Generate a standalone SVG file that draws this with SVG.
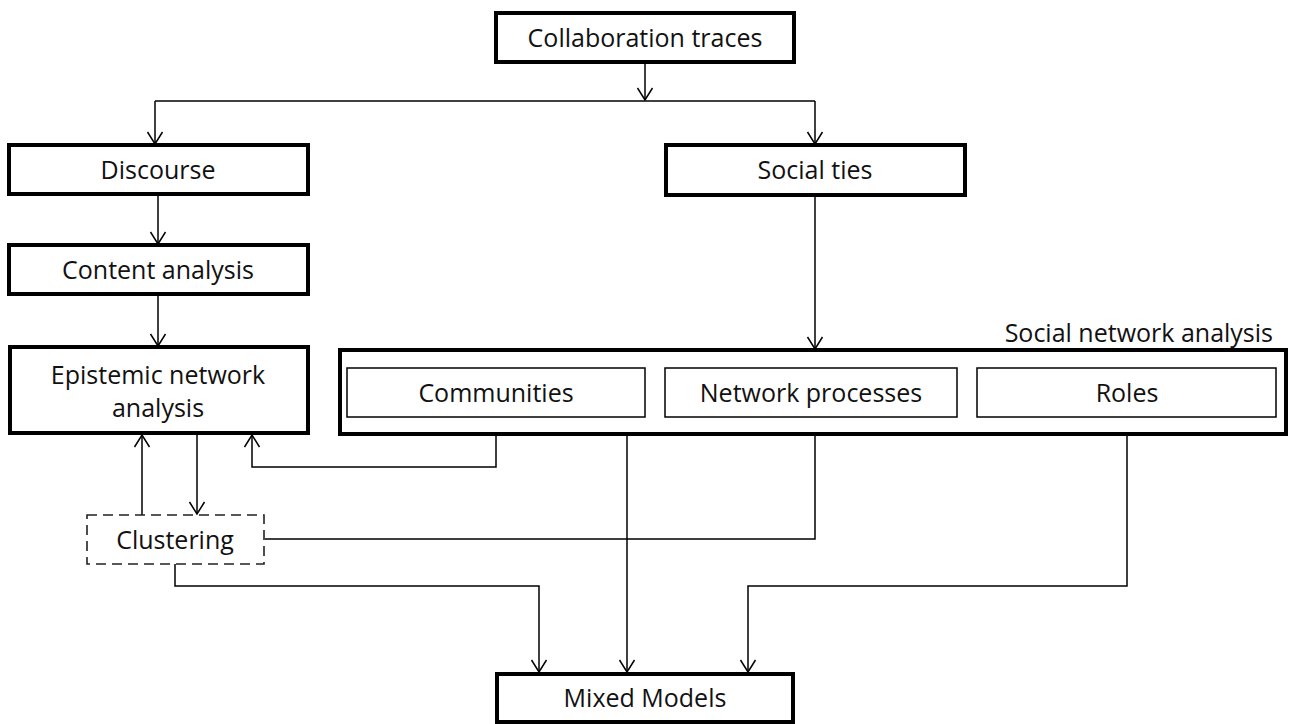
<svg xmlns="http://www.w3.org/2000/svg" width="1289" height="724" viewBox="0 0 1289 724">
<style>
.thick{fill:#fff;stroke:#000;stroke-width:4}
.thin{fill:#fff;stroke:#000;stroke-width:1.5}
.dash{fill:#fff;stroke:#222;stroke-width:1.6;stroke-dasharray:10,6}
.c{fill:none;stroke:#000;stroke-width:1.5;marker-end:url(#ah)}
.n{fill:none;stroke:#000;stroke-width:1.5}
text{font-family:"Open Sans","Liberation Sans",sans-serif;font-size:25px;fill:#111;text-anchor:middle}
</style>
<defs>
<marker id="ah" viewBox="0 0 14 18" refX="13" refY="9" markerWidth="14" markerHeight="18" markerUnits="userSpaceOnUse" orient="auto">
<path d="M1,1.5 L13,9 L1,16.5" fill="none" stroke="#000" stroke-width="1.5"/>
</marker>
</defs>
<g id="connectors">
<line class="c" x1="645" y1="62" x2="645" y2="100"/>
<path class="n" d="M155,101 H815"/>
<line class="c" x1="155" y1="101" x2="155" y2="144"/>
<line class="c" x1="815" y1="101" x2="815" y2="144"/>
<line class="c" x1="158" y1="194" x2="158" y2="244"/>
<line class="c" x1="158" y1="294" x2="158" y2="346"/>
<line class="c" x1="815" y1="195" x2="815" y2="349"/>
<path class="c" d="M496,417 V467 H252 V435"/>
<line class="c" x1="142" y1="515" x2="142" y2="435"/>
<line class="c" x1="197" y1="433" x2="197" y2="514"/>
<path class="c" d="M265,539 H815 V418"/>
<line class="c" x1="627" y1="417" x2="627" y2="672"/>
<path class="c" d="M175,564 V586 H539 V672"/>
<path class="c" d="M1127,417 V586 H748 V672"/>
</g>
<g id="collab"><rect class="thick" x="496" y="13" width="298" height="49"/><text x="645" y="47">Collaboration traces</text></g>
<g id="discourse"><rect class="thick" x="9" y="145" width="299" height="49"/><text x="158" y="179">Discourse</text></g>
<g id="socialties"><rect class="thick" x="666" y="145" width="299" height="50"/><text x="815" y="179">Social ties</text></g>
<g id="content"><rect class="thick" x="9" y="245" width="299" height="49"/><text x="158" y="279">Content analysis</text></g>
<g id="ena"><rect class="thick" x="10" y="347" width="298" height="86"/><text x="158" y="384">Epistemic network</text><text x="158" y="417">analysis</text></g>
<g id="sna"><rect class="thick" x="340" y="350" width="946" height="84"/><text x="1273" y="342" style="text-anchor:end">Social network analysis</text></g>
<g id="communities"><rect class="thin" x="347" y="368" width="298" height="49"/><text x="496" y="402">Communities</text></g>
<g id="netproc"><rect class="thin" x="665" y="368" width="292" height="49"/><text x="811" y="402">Network processes</text></g>
<g id="roles"><rect class="thin" x="977" y="368" width="299" height="49"/><text x="1127" y="402">Roles</text></g>
<g id="clustering"><rect class="dash" x="87" y="515" width="177" height="49"/><text x="175" y="549">Clustering</text></g>
<g id="mixed"><rect class="thick" x="497" y="674" width="296" height="48"/><text x="645" y="707">Mixed Models</text></g>
</svg>
